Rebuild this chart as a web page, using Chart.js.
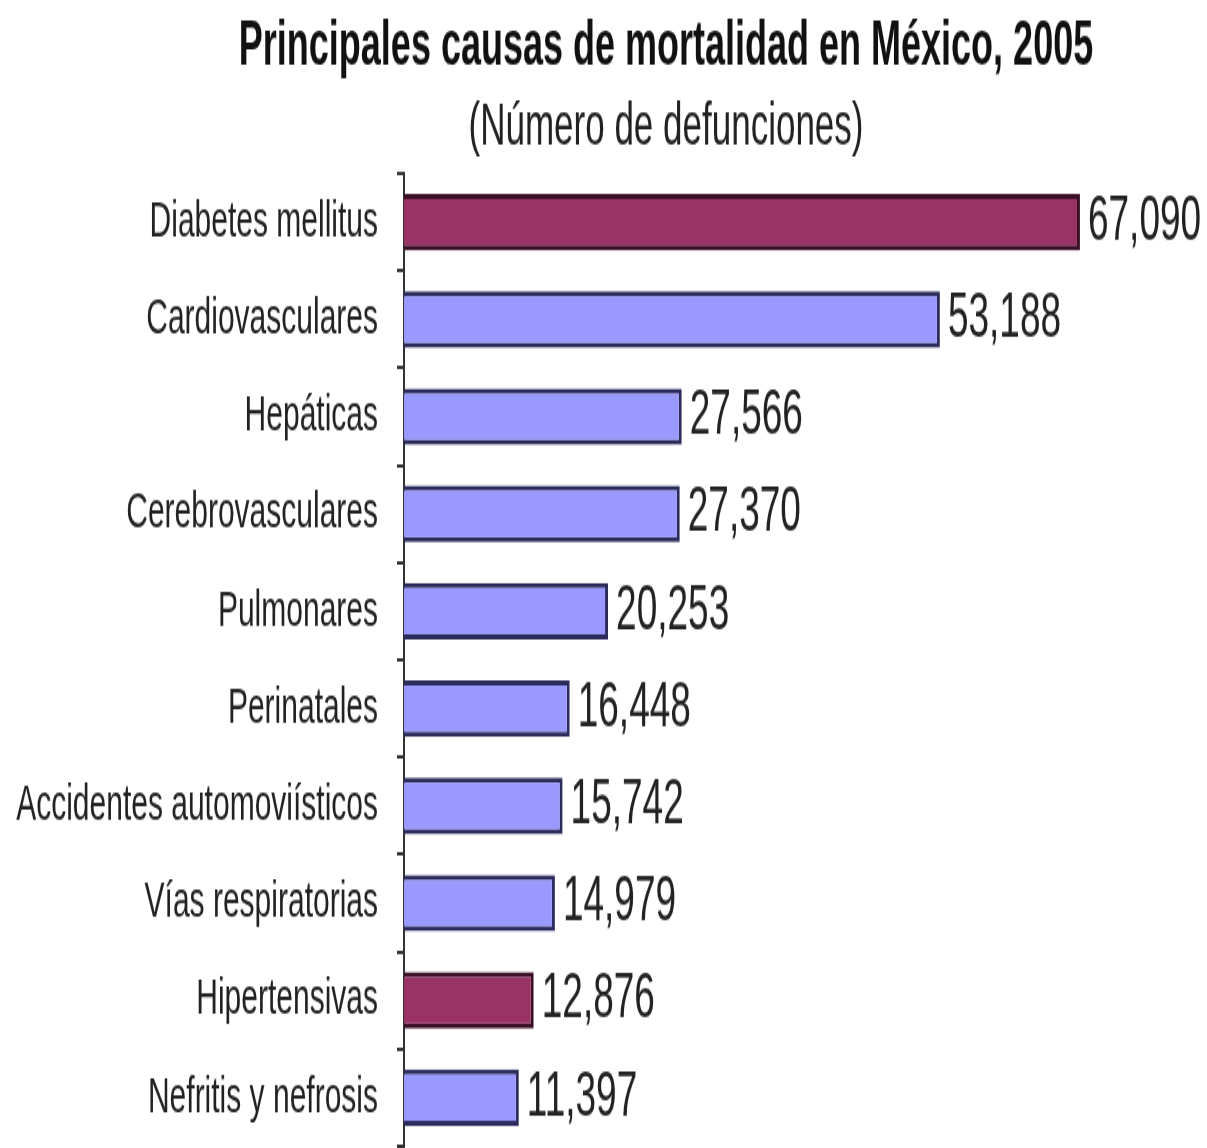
<!DOCTYPE html>
<html>
<head>
<meta charset="utf-8">
<script src="https://cdn.jsdelivr.net/npm/chart.js@4/dist/chart.umd.min.js"></script>
<style>
  html, body { margin: 0; padding: 0; background: #ffffff; overflow: hidden; }
</style>
</head>
<body>
<canvas id="c" width="1207" height="675" style="display:block;width:1207px;height:1148px;"></canvas>
<script>
const titleText = 'Principales causas de mortalidad en México, 2005';
const subtitleText = '(Número de defunciones)';
const categories = ['Diabetes mellitus', 'Cardiovasculares', 'Hepáticas', 'Cerebrovasculares', 'Pulmonares', 'Perinatales', 'Accidentes automoviísticos', 'Vías respiratorias', 'Hipertensivas', 'Nefritis y nefrosis'];
const deaths = [67090, 53188, 27566, 27370, 20253, 16448, 15742, 14979, 12876, 11397];
const highlighted = ['Diabetes mellitus', 'Hipertensivas'];

const FONT = "'Liberation Sans', Arial, sans-serif";
const fillColors = categories.map(c => highlighted.includes(c) ? '#993366' : '#9999ff');
const borderColors = categories.map(c => highlighted.includes(c) ? '#3a0f26' : '#2b2b5c');

const headings = {
  id: 'headings',
  afterDraw(chart) {
    const ctx = chart.ctx;
    ctx.save();
    ctx.textAlign = 'center';
    ctx.textBaseline = 'middle';
    ctx.fillStyle = '#111111';
    ctx.font = 'bold 36px ' + FONT;
    ctx.fillText(titleText, 666, 28);
    ctx.fillStyle = '#222222';
    ctx.font = '35px ' + FONT;
    ctx.fillText(subtitleText, 666, 75);
    ctx.restore();
  }
};

const valueLabels = {
  id: 'valueLabels',
  afterDatasetsDraw(chart) {
    const ctx = chart.ctx;
    const meta = chart.getDatasetMeta(0);
    ctx.save();
    ctx.font = '37px ' + FONT;
    ctx.fillStyle = '#222222';
    ctx.textAlign = 'left';
    ctx.textBaseline = 'middle';
    meta.data.forEach((el, i) => {
      ctx.fillText(deaths[i].toLocaleString('en-US'), el.x + 8, el.y);
    });
    ctx.restore();
  }
};

new Chart(document.getElementById('c'), {
  type: 'bar',
  data: {
    labels: categories,
    datasets: [{
      data: deaths,
      backgroundColor: fillColors,
      borderColor: borderColors,
      borderWidth: 3,
      barPercentage: 0.58,
      categoryPercentage: 1.0
    }]
  },
  options: {
    indexAxis: 'y',
    responsive: false,
    animation: false,
    devicePixelRatio: 1,
    layout: { padding: { left: 0, right: 0, top: 102, bottom: 1 } },
    plugins: {
      legend: { display: false },
      tooltip: { enabled: false },
      title: { display: false },
      subtitle: { display: false }
    },
    scales: {
      x: {
        display: false,
        min: 0,
        max: 79700
      },
      y: {
        afterFit(scale) {
          scale.width = 404;
          scale.paddingTop = 0;
          scale.paddingBottom = 0;
        },
        border: { display: true, color: '#333333', width: 2 },
        grid: {
          offset: true,
          drawOnChartArea: false,
          drawTicks: true,
          tickLength: 7,
          color: '#333333',
          lineWidth: 2
        },
        ticks: {
          color: '#222222',
          padding: 19,
          font: { family: FONT, size: 30 }
        }
      }
    }
  },
  plugins: [valueLabels, headings]
});
</script>
</body>
</html>
